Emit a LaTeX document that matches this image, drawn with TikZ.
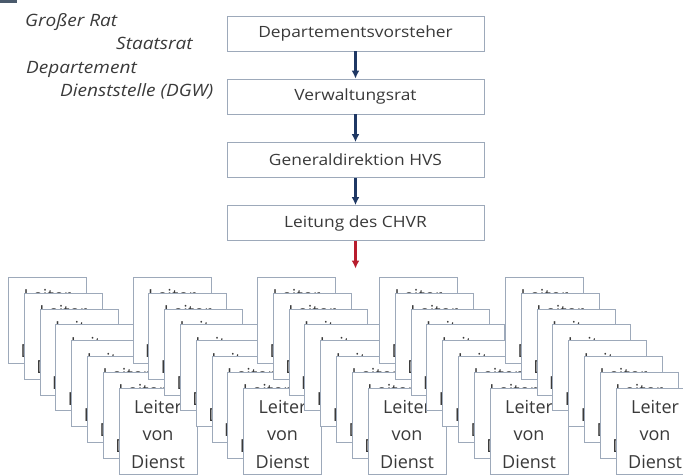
\documentclass[tikz,border=0pt]{standalone}
\usepackage{fontspec}
\setmainfont{Open Sans}
\newfontfamily\widefont[FakeStretch=1.12]{Open Sans}
\usetikzlibrary{positioning, arrows.meta}
\definecolor{boxline}{HTML}{9DA9BA}
\definecolor{textgray}{HTML}{3A3A3A}
\definecolor{navy}{HTML}{1F3864}
\definecolor{darkred}{HTML}{B81D2E}
\definecolor{slate}{HTML}{4A5A6C}

\begin{document}
\begin{tikzpicture}[x=1pt,y=-1pt]
  \useasboundingbox (0,0) rectangle (683,475);
  \clip (0,0) rectangle (683,475);

    % Setup the styles
    \tikzset{level box/.style={draw=boxline, line width=0.9pt, fill=white,
                               minimum width=257pt, minimum height=35pt,
                               inner sep=0pt, text=textgray,
                               font=\widefont\fontsize{15.5}{18}\selectfont},
             leiter box/.style={draw=boxline, line width=0.9pt, fill=white,
                                minimum width=78pt, minimum height=86pt,
                                inner sep=0pt, align=center, text=textgray,
                                font=\fontsize{18}{27.5}\selectfont},
             side label/.style={anchor=base west, inner sep=0pt, text=textgray,
                                font=\widefont\itshape\fontsize{17}{20}\selectfont},
             down arrow/.style={-{Latex[length=8pt,width=8pt]}, line width=2.2pt}}

    % Corner mark
    \fill[slate] (0,0) rectangle (17,3);

    % Levels on the left
    \node[side label] at (25,26.5)  (grossrat)     {Großer Rat};
    \node[side label] at (116,49.5) (staatsrat)    {Staatsrat};
    \node[side label] at (26,73)    (departement)  {Departement};
    \node[side label] at (60,96.5)  (dienststelle) {Dienststelle (DGW)};

    % Draw the chain of command
    \node[level box] at (355.5,33.5) (vorsteher) {Departementsvorsteher};
    \node[level box] at (355.5,96.5) (vrat)      {Verwaltungsrat};
    \node[level box] at (355.5,160)  (hvs)       {Generaldirektion HVS};
    \node[level box] at (355.5,223)  (chvr)      {Leitung des CHVR};
    \coordinate (chvrend) at (355.5,268.5);

    % Connect the boxes with arrows
    \draw[down arrow, navy] (vorsteher) -- (vrat);
    \draw[down arrow, navy] (vrat) -- (hvs);
    \draw[down arrow, navy] (hvs) -- (chvr);
    \draw[down arrow, darkred] (chvr) -- (chvrend);

    % Stacks of service heads
    \foreach \s/\sx in {0/8, 1/132.5, 2/257, 3/379, 4/505}
      \foreach \k in {0,...,7}
        \node[leiter box, anchor=north west] at ({\sx+15.8*\k},{277+15.8*\k})
              (leiter-\s-\k) {\rule{0pt}{20pt}Leiter\\von\\Dienst};
\end{tikzpicture}
\end{document}
